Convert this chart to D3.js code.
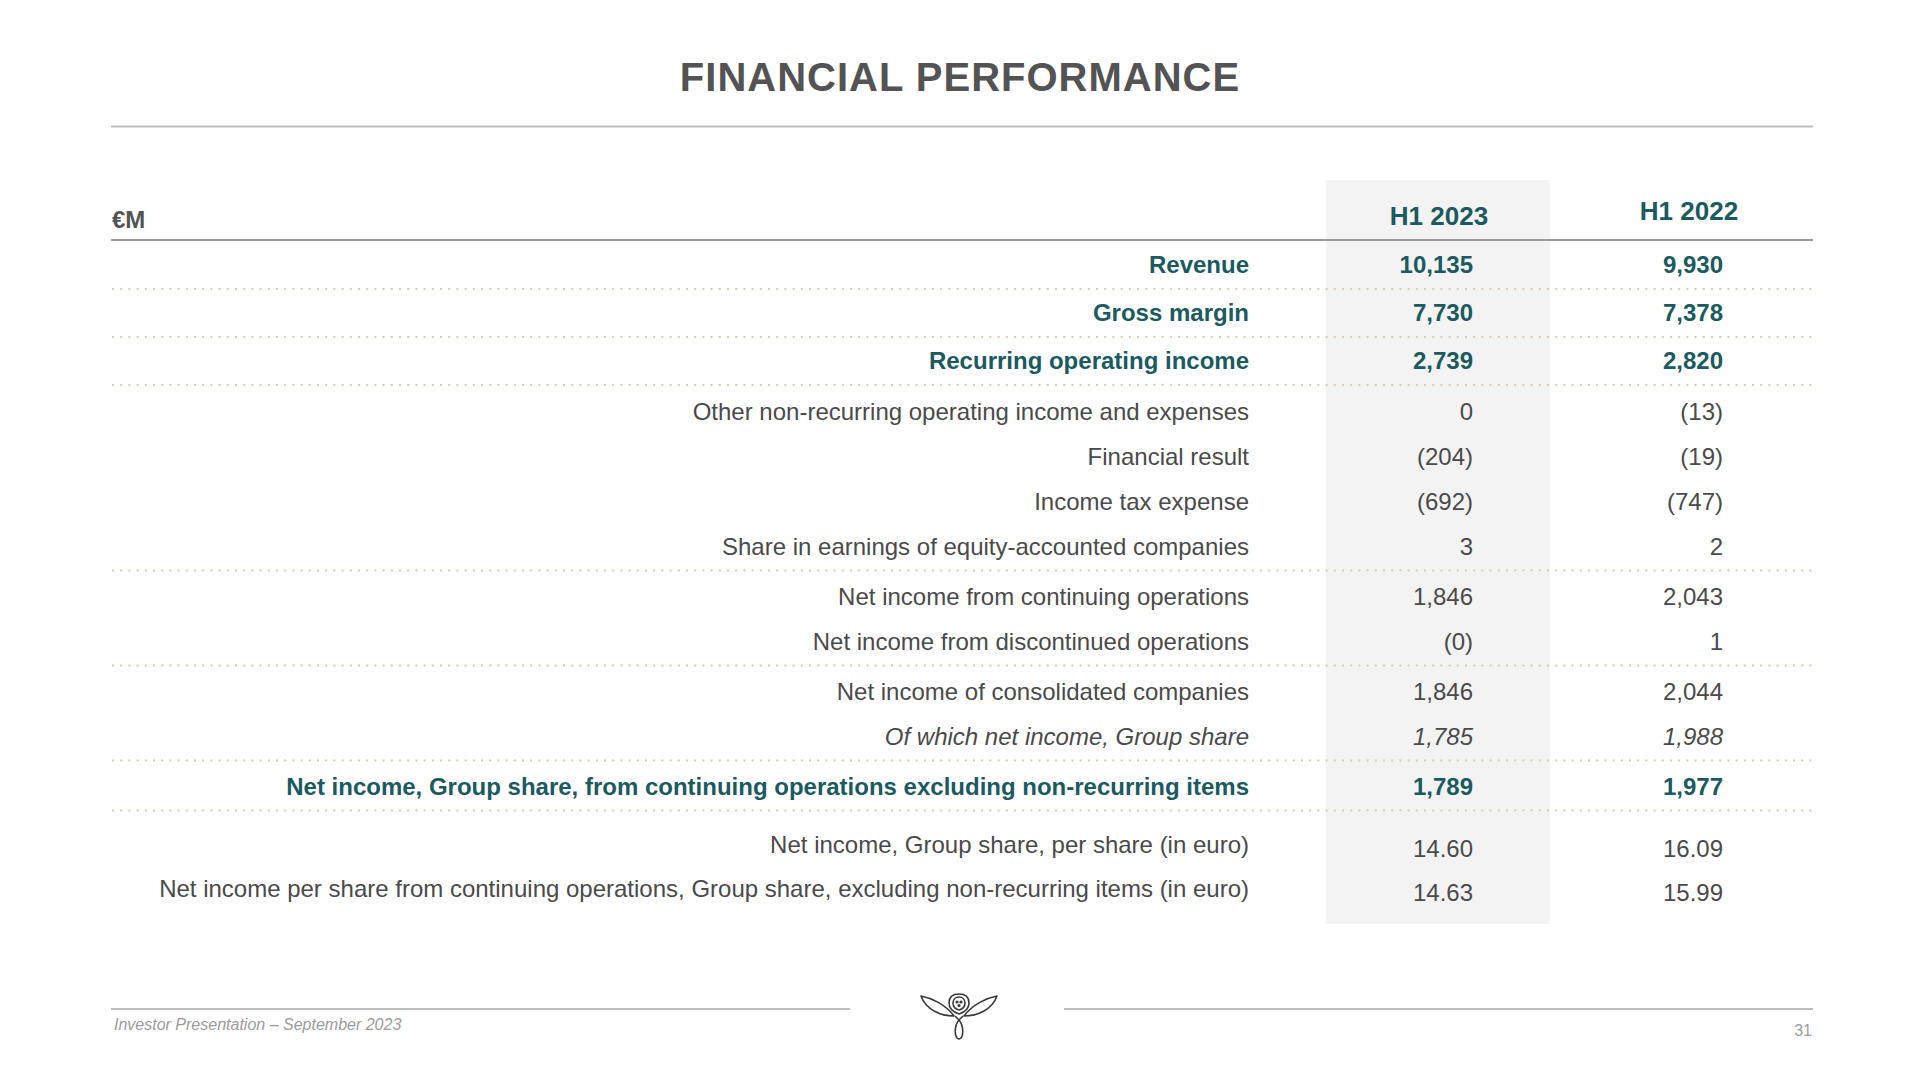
<!DOCTYPE html>
<html>
<head>
<meta charset="utf-8">
<script src="https://cdn.jsdelivr.net/npm/d3@7"></script>
<style>
  html, body { margin: 0; padding: 0; background: #ffffff; }
  svg { display: block; }
  text { font-family: "Liberation Sans", Arial, Helvetica, sans-serif; }
</style>
</head>
<body>
<svg id="chart" width="1920" height="1080"></svg>
<script>
// ---------------- DATA ----------------
const title = "FINANCIAL PERFORMANCE";
const unitLabel = "€M";
const periods = ["H1 2023", "H1 2022"];
const rowLabels = [
  "Revenue",
  "Gross margin",
  "Recurring operating income",
  "Other non-recurring operating income and expenses",
  "Financial result",
  "Income tax expense",
  "Share in earnings of equity-accounted companies",
  "Net income from continuing operations",
  "Net income from discontinued operations",
  "Net income of consolidated companies",
  "Of which net income, Group share",
  "Net income, Group share, from continuing operations excluding non-recurring items",
  "Net income, Group share, per share (in euro)",
  "Net income per share from continuing operations, Group share, excluding non-recurring items (in euro)"
];
const valuesH1_2023 = [10135, 7730, 2739, 0, -204, -692, 3, 1846, -0, 1846, 1785, 1789, 14.60, 14.63];
const valuesH1_2022 = [9930, 7378, 2820, -13, -19, -747, 2, 2043, 1, 2044, 1988, 1977, 16.09, 15.99];
const rowStyle = ["key", "key", "key", "plain", "plain", "plain", "plain", "plain", "plain", "plain", "italic", "key", "eps", "eps"];
const rowGroup = [0, 1, 2, 3, 3, 3, 3, 4, 4, 5, 5, 6, 7, 7];
const footerText = "Investor Presentation – September 2023";
const pageNumber = "31";

// ---------------- STYLE ----------------
const C = {
  title: "#535353",
  text: "#4a4a4a",
  teal: "#1b5a5f",
  rule: "#bdbdbd",
  headRule: "#9a9a9a",
  dots: "#d6ccb2",
  colFill: "#f3f3f3",
  footer: "#9b9b9b"
};

const svg = d3.select("#chart");
const W = 1920, left = 111, right = 1813;

// column positions
const xCol = d3.scaleOrdinal().domain(["label", ...periods]).range([1249, 1473, 1723]);
const xHeader = d3.scaleOrdinal().domain(periods).range([1439, 1689]);
const headerBase = d3.scaleOrdinal().domain(periods).range([225, 220]);
const shadeBand = { x0: 1326, x1: 1550, y0: 180, y1: 924 };

// number formatting
const fmtInt = d3.format(",d");
const fmtDec = d3.format(",.2f");
function fmt(v, style) {
  const neg = v < 0 || Object.is(v, -0);
  const s = style === "eps" ? fmtDec(Math.abs(v)) : fmtInt(Math.abs(v));
  return neg ? "(" + s + ")" : s;
}

// vertical layout: baselines computed from groups
const headerRuleY = 240;
const sepBelow = 16;
const baselines = [], separators = [];
let y = headerRuleY;
rowLabels.forEach((d, i) => {
  if (i === 0) y += 33;
  else if (rowGroup[i] !== rowGroup[i - 1]) {
    const sep = y + sepBelow;
    separators.push(sep);
    let lead = 34;
    if (rowGroup[i] === 7) lead = 42.5;
    else if (rowGroup[i] === 3) lead = 34.5;
    else if (rowStyle[i] === "key" && rowGroup[i] < 3) lead = 32;
    y = sep + lead;
  } else {
    y += rowStyle[i] === "eps" ? 44 : 45;
  }
  baselines.push(y);
});
const yRow = d3.scaleOrdinal().domain(d3.range(rowLabels.length)).range(baselines);

// ---------------- DRAW ----------------
svg.append("rect")
  .attr("x", shadeBand.x0).attr("y", shadeBand.y0)
  .attr("width", shadeBand.x1 - shadeBand.x0).attr("height", shadeBand.y1 - shadeBand.y0)
  .attr("fill", C.colFill);

svg.append("text")
  .attr("x", W / 2).attr("y", 91)
  .attr("text-anchor", "middle")
  .attr("font-size", 40).attr("font-weight", "bold")
  .attr("letter-spacing", 1)
  .attr("fill", C.title)
  .text(title);

svg.append("line")
  .attr("x1", left).attr("x2", right).attr("y1", 126.5).attr("y2", 126.5)
  .attr("stroke", C.rule).attr("stroke-width", 2);

svg.append("text")
  .attr("x", 112).attr("y", 228)
  .attr("font-size", 24).attr("font-weight", "bold")
  .attr("fill", C.title)
  .text(unitLabel);

svg.selectAll("text.period").data(periods).join("text")
  .attr("class", "period")
  .attr("x", d => xHeader(d)).attr("y", d => headerBase(d))
  .attr("text-anchor", "middle")
  .attr("font-size", 26).attr("font-weight", "bold")
  .attr("fill", C.teal)
  .text(d => d);

svg.append("line")
  .attr("x1", left).attr("x2", right).attr("y1", headerRuleY).attr("y2", headerRuleY)
  .attr("stroke", C.headRule).attr("stroke-width", 2);

svg.selectAll("line.sep").data(separators).join("line")
  .attr("class", "sep")
  .attr("x1", left + 1).attr("x2", right).attr("y1", d => d).attr("y2", d => d)
  .attr("stroke", C.dots).attr("stroke-width", 2)
  .attr("stroke-dasharray", "2 6.2");

function styleText(sel) {
  sel.attr("font-size", 24)
    .attr("font-weight", d => (rowStyle[d.i] === "key" ? "bold" : "normal"))
    .attr("font-style", d => (rowStyle[d.i] === "italic" ? "italic" : "normal"))
    .attr("fill", d => (rowStyle[d.i] === "key" ? C.teal : C.text));
}

const rows = rowLabels.map((label, i) => ({ i, label }));

svg.selectAll("text.label").data(rows).join("text")
  .attr("class", "label")
  .attr("x", xCol("label"))
  .attr("y", d => yRow(d.i))
  .attr("text-anchor", "end")
  .call(styleText)
  .text(d => d.label);

const valueSeries = [valuesH1_2023, valuesH1_2022];
periods.forEach((p, k) => {
  svg.selectAll("text.val" + k).data(rows).join("text")
    .attr("class", "val" + k)
    .attr("x", xCol(p))
    .attr("y", d => yRow(d.i) + (rowStyle[d.i] === "eps" ? 4 : 0))
    .attr("text-anchor", "end")
    .call(styleText)
    .text(d => fmt(valueSeries[k][d.i], rowStyle[d.i]));
});

svg.append("line").attr("x1", left).attr("x2", 850).attr("y1", 1009).attr("y2", 1009)
  .attr("stroke", C.rule).attr("stroke-width", 2);
svg.append("line").attr("x1", 1064).attr("x2", right).attr("y1", 1009).attr("y2", 1009)
  .attr("stroke", C.rule).attr("stroke-width", 2);

svg.append("text").attr("x", 114).attr("y", 1030)
  .attr("font-size", 16).attr("font-style", "italic").attr("fill", C.footer)
  .text(footerText);
svg.append("text").attr("x", 1812).attr("y", 1036)
  .attr("text-anchor", "end")
  .attr("font-size", 16).attr("fill", C.footer)
  .text(pageNumber);

// logo
const logo = svg.append("g").attr("transform", "translate(959,1000)")
  .attr("fill", "none").attr("stroke", "#3a3a3a").attr("stroke-width", 1.6)
  .attr("stroke-linejoin", "round");
const wing = "M -38 -4 C -27 -2, -13 5, -5 16 C -18 16, -33 10, -38 -4 Z";
logo.append("path").attr("d", wing);
logo.append("path").attr("d", wing).attr("transform", "scale(-1,1)");
logo.append("path").attr("d", "M 0 14 C -6 12, -10 8, -10 3 C -10 -3, -6 -6, 0 -6 C 6 -6, 10 -3, 10 3 C 10 8, 6 12, 0 14 Z");
logo.append("path").attr("d", "M 0 10 C -4 9, -6 6, -6 3 C -6 -1, -3 -3, 0 -3 C 3 -3, 6 -1, 6 3 C 6 6, 4 9, 0 10 Z");
logo.append("circle").attr("cx", -2).attr("cy", 2).attr("r", 0.8).attr("fill", "#3a3a3a");
logo.append("circle").attr("cx", 2).attr("cy", 2).attr("r", 0.8).attr("fill", "#3a3a3a");
logo.append("circle").attr("cx", 0).attr("cy", 5.5).attr("r", 0.8).attr("fill", "#3a3a3a");
logo.append("path").attr("d", "M -4 16 L 0 20 L 4 16 M 0 20 C -5 26, -5 38, 0 39 C 5 38, 5 26, 0 20 Z");
</script>
</body>
</html>
